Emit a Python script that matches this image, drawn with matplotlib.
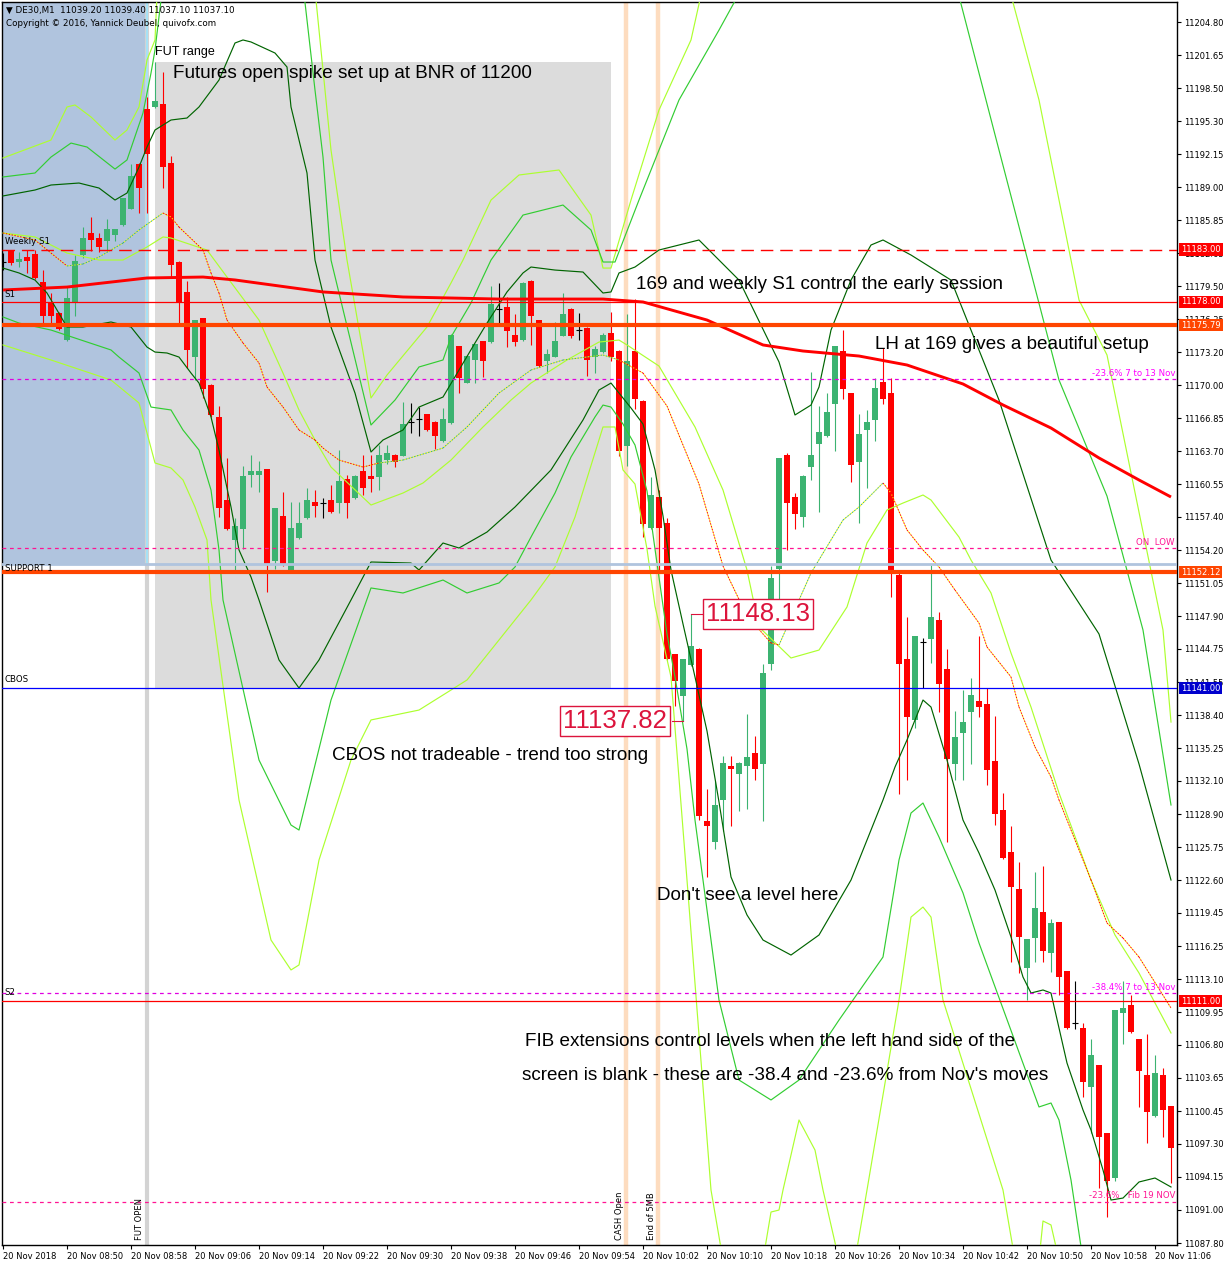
import matplotlib
matplotlib.use("Agg")
import matplotlib.pyplot as plt
import matplotlib.transforms as mtransforms
from matplotlib.patches import Rectangle

# ---- M1 candles, 20 Nov 08:42 .. 11:08 (index = minutes after 08:42) ----
opens = [11181.8, 11182.9, 11181.8, 11182.3, 11182.6, 11179.9, 11178.0, 11176.9, 11174.4, 11177.9,
         11182.5, 11184.6, 11184.1, 11183.8, 11184.4, 11185.4, 11186.9, 11191.2, 11196.5, 11196.7,
         11197.0, 11191.3, 11181.8, 11179.0, 11172.7, 11176.5, 11170.0, 11167.0, 11159.0, 11155.2,
         11156.2, 11161.4, 11161.4, 11162.0, 11153.2, 11157.5, 11152.1, 11155.4, 11157.3, 11158.8,
         11158.7, 11159.0, 11158.7, 11161.0, 11159.2, 11161.8, 11161.3, 11161.2, 11162.9, 11163.3,
         11163.2, 11166.5, 11166.8, 11167.3, 11166.5, 11164.7, 11166.4, 11173.8, 11170.2, 11172.4,
         11174.3, 11174.2, 11177.3, 11177.5, 11174.8, 11174.4, 11180.0, 11176.3, 11172.3, 11172.7,
         11174.7, 11177.3, 11175.3, 11175.5, 11172.7, 11173.2, 11175.0, 11173.3, 11164.2, 11173.3,
         11168.5, 11156.3, 11159.3, 11156.8, 11144.3, 11140.2, 11143.2, 11144.7, 11128.3, 11126.2,
         11130.3, 11133.5, 11132.8, 11133.5, 11134.8, 11133.7, 11143.3, 11152.4, 11163.3, 11159.3,
         11157.4, 11162.2, 11164.4, 11165.2, 11168.2, 11173.3, 11169.3, 11162.7, 11165.7, 11166.7,
         11170.3, 11169.3, 11151.8, 11143.8, 11137.9, 11145.4, 11145.7, 11147.5, 11142.8, 11133.7,
         11136.7, 11138.7, 11139.8, 11139.5, 11134.0, 11129.3, 11125.3, 11121.7, 11114.2, 11117.0,
         11119.5, 11115.6, 11118.6, 11113.9, 11108.9, 11108.4, 11102.8, 11104.9, 11098.4, 11094.0,
         11109.9, 11110.6, 11107.4, 11103.9, 11100.0, 11103.9, 11100.9]
highs = [11182.7, 11183.0, 11182.8, 11183.0, 11183.0, 11181.1, 11178.9, 11177.0, 11179.4, 11182.5,
         11185.2, 11186.1, 11184.6, 11186.0, 11185.0, 11188.0, 11191.2, 11191.3, 11197.6, 11201.0,
         11200.0, 11192.0, 11181.9, 11180.0, 11176.3, 11176.5, 11170.1, 11168.0, 11163.0, 11157.3,
         11162.3, 11163.3, 11162.8, 11162.0, 11158.3, 11159.8, 11158.8, 11158.8, 11160.2, 11160.0,
         11159.2, 11160.5, 11163.8, 11161.4, 11161.4, 11163.3, 11163.3, 11164.3, 11164.3, 11163.4,
         11168.4, 11168.3, 11167.9, 11167.3, 11166.6, 11167.8, 11174.9, 11173.8, 11172.9, 11174.0,
         11174.3, 11179.5, 11179.8, 11178.5, 11176.8, 11179.9, 11180.1, 11176.3, 11173.5, 11176.1,
         11178.9, 11177.4, 11176.9, 11175.6, 11173.8, 11175.0, 11177.0, 11173.4, 11176.8, 11178.3,
         11168.6, 11161.2, 11160.0, 11157.3, 11144.3, 11143.8, 11148.13, 11144.8, 11131.3, 11132.1,
         11134.5, 11134.5, 11133.9, 11138.5, 11136.4, 11143.3, 11152.7, 11163.0, 11163.5, 11159.7,
         11161.4, 11171.3, 11168.0, 11169.3, 11173.8, 11175.3, 11169.3, 11167.3, 11167.6, 11170.7,
         11173.6, 11170.7, 11152.3, 11147.8, 11146.0, 11145.8, 11152.8, 11148.3, 11144.7, 11138.8,
         11140.8, 11142.0, 11146.0, 11141.0, 11138.3, 11130.9, 11127.8, 11124.3, 11116.9, 11123.4,
         11123.9, 11118.9, 11118.6, 11113.9, 11112.9, 11108.9, 11107.4, 11104.9, 11098.4, 11110.1,
         11112.9, 11111.6, 11107.4, 11107.8, 11105.8, 11104.6, 11100.9]
lows = [11181.1, 11181.5, 11181.4, 11180.8, 11180.2, 11176.0, 11176.0, 11175.3, 11174.3, 11176.7,
        11182.2, 11182.9, 11182.8, 11182.9, 11183.8, 11185.3, 11186.9, 11186.5, 11186.5, 11196.6,
        11188.9, 11180.4, 11176.0, 11171.7, 11170.5, 11168.8, 11167.0, 11157.4, 11156.1, 11152.3,
        11154.3, 11160.3, 11159.8, 11150.2, 11152.4, 11152.7, 11152.0, 11155.3, 11157.2, 11157.4,
        11157.3, 11157.8, 11157.8, 11157.3, 11159.1, 11159.5, 11159.8, 11160.0, 11162.5, 11162.2,
        11163.2, 11165.4, 11165.2, 11165.6, 11163.9, 11164.6, 11166.3, 11169.3, 11170.2, 11170.2,
        11170.8, 11174.1, 11176.0, 11173.7, 11173.8, 11174.3, 11173.9, 11171.8, 11171.2, 11172.7,
        11174.7, 11174.5, 11174.4, 11170.9, 11171.2, 11173.1, 11172.3, 11163.2, 11162.3, 11167.7,
        11155.5, 11156.2, 11152.3, 11143.7, 11139.3, 11137.82, 11143.1, 11128.4, 11122.9, 11125.6,
        11127.3, 11127.8, 11129.2, 11129.4, 11132.2, 11128.3, 11142.7, 11146.9, 11154.2, 11156.2,
        11156.4, 11160.9, 11157.9, 11165.1, 11163.7, 11168.7, 11160.7, 11156.8, 11160.2, 11164.7,
        11168.2, 11149.7, 11130.8, 11132.2, 11137.2, 11141.0, 11143.4, 11138.7, 11126.2, 11132.2,
        11132.2, 11133.7, 11138.2, 11131.7, 11127.9, 11124.6, 11114.7, 11113.7, 11111.1, 11114.7,
        11114.7, 11113.8, 11111.6, 11108.3, 11108.3, 11101.8, 11098.4, 11093.1, 11090.3, 11093.8,
        11106.9, 11107.9, 11100.8, 11097.4, 11099.9, 11098.0, 11093.6]
closes = [11181.8, 11181.7, 11182.1, 11181.9, 11180.3, 11176.7, 11176.7, 11175.4, 11178.4, 11181.9,
          11184.1, 11183.9, 11183.3, 11185.0, 11185.0, 11188.0, 11190.1, 11188.9, 11192.2, 11197.3,
          11190.9, 11181.5, 11178.0, 11173.4, 11176.3, 11169.7, 11167.2, 11158.3, 11156.2, 11156.5,
          11161.3, 11161.8, 11161.8, 11152.8, 11158.3, 11152.8, 11156.3, 11156.8, 11159.0, 11158.4,
          11158.7, 11157.9, 11160.8, 11158.7, 11161.3, 11160.2, 11161.0, 11163.3, 11163.5, 11162.7,
          11166.3, 11166.5, 11166.8, 11165.7, 11165.2, 11166.8, 11174.8, 11170.7, 11172.8, 11174.0,
          11172.3, 11177.8, 11177.3, 11175.2, 11174.2, 11179.8, 11176.7, 11171.9, 11173.0, 11174.3,
          11176.8, 11174.7, 11175.3, 11172.4, 11173.5, 11174.8, 11172.7, 11163.7, 11172.3, 11168.7,
          11156.7, 11159.5, 11156.3, 11143.8, 11141.7, 11143.8, 11145.0, 11128.7, 11127.8, 11129.8,
          11133.8, 11133.2, 11133.8, 11134.4, 11133.2, 11142.4, 11151.5, 11163.0, 11158.7, 11157.7,
          11161.3, 11163.3, 11165.5, 11167.5, 11173.8, 11169.7, 11162.4, 11165.3, 11166.5, 11169.8,
          11168.7, 11152.2, 11143.3, 11138.2, 11146.0, 11145.4, 11147.8, 11141.4, 11134.2, 11136.3,
          11137.7, 11140.3, 11139.2, 11133.1, 11128.9, 11124.7, 11121.9, 11117.1, 11116.9, 11119.9,
          11115.8, 11118.5, 11113.3, 11108.4, 11108.9, 11103.2, 11105.8, 11098.0, 11093.8, 11110.1,
          11110.3, 11108.0, 11104.3, 11100.4, 11104.1, 11100.6, 11096.9]

# ---- indicator lines (candle index, price) ----
ma169_i = [0, 8, 18, 25, 29, 40, 50, 62, 75, 80, 88, 95, 100, 107, 113, 120, 125, 131, 137, 142, 146]
ma169_p = [11179.15, 11179.43, 11180.30, 11180.39, 11180.11, 11178.96, 11178.48, 11178.28, 11178.28,
           11178.00, 11176.27, 11173.88, 11173.30, 11172.82, 11171.96, 11170.14, 11168.13, 11165.92,
           11163.05, 11160.94, 11159.31]

mid_i = [0, 4, 6, 8, 10, 12, 15, 17, 20, 21, 22, 25, 26, 27, 28, 30, 32, 33, 35, 37, 39, 40, 42, 45,
         47, 50, 55, 58, 62, 66, 70, 75, 77, 80, 83, 87, 90, 93, 96, 97, 101, 105, 107, 110, 111, 113,
         115, 117, 119, 122, 123, 126, 127, 129, 131, 132, 136, 138, 140, 142, 146]
mid_p = [11184.61, 11183.94, 11182.69, 11181.45, 11181.64, 11182.31, 11183.65, 11184.90, 11186.53,
         11186.14, 11185.18, 11182.98, 11180.78, 11178.86, 11176.27, 11174.07, 11172.15, 11169.85,
         11167.93, 11165.73, 11164.77, 11164.00, 11162.85, 11162.18, 11162.57, 11162.85, 11164.00,
         11166.02, 11169.27, 11171.48, 11172.44, 11172.92, 11172.44, 11171.19, 11168.03, 11160.55,
         11152.69, 11147.90, 11145.32, 11145.12, 11152.02, 11157.10, 11158.35, 11160.65, 11159.69,
         11156.15, 11154.23, 11152.60, 11150.39, 11147.23, 11144.93, 11142.06, 11139.18, 11135.35,
         11132.47, 11130.27, 11122.61, 11118.48, 11117.04, 11115.22, 11110.33]
mid_up_spans = [(8, 20), (47, 77), (97, 110)]

ma2_i = [0, 4, 8, 12, 15, 18, 20, 21, 25.5, 28, 32, 35, 37, 39, 41, 46, 50, 52.5, 56, 60, 63.5, 66,
         70.5, 74.5, 77, 78, 82, 86.5, 90, 93, 94.5, 98.5, 102, 105.5, 108, 110.5, 112.5, 115, 116,
         119.5, 121, 123.5, 126, 128.5, 132, 136, 139, 142, 146]
ma2_p = [11184.61, 11184.23, 11182.69, 11182.02, 11182.02, 11183.27, 11184.23, 11184.13, 11182.98,
         11180.39, 11176.27, 11171.19, 11167.65, 11164.77, 11162.18, 11158.54, 11159.69, 11160.65,
         11162.85, 11166.02, 11168.60, 11170.23, 11172.44, 11174.16, 11174.35, 11173.88, 11171.86,
         11166.02, 11159.98, 11152.31, 11146.85, 11143.88, 11144.64, 11148.77, 11154.90, 11158.06,
         11158.73, 11159.50, 11159.02, 11155.47, 11153.27, 11150.11, 11144.36, 11139.18, 11130.94,
         11122.60, 11117.33, 11113.69, 11107.94]

up_dark_i = [0, 4, 6, 9.5, 12, 14, 15.5, 17, 18, 19, 21, 23, 24.5, 27, 29, 30, 31, 34, 35.5, 36, 38,
             39, 41, 44, 46, 47.5, 50, 52, 55, 57, 59, 60.5, 63, 65, 66, 69, 72.5, 75, 76, 77, 79, 82,
             87, 92, 97, 99, 101, 102, 103.5, 106, 108.5, 110, 113.5, 118.5, 124.5, 131, 137, 142, 146]
up_dark_p = [11188.16, 11188.73, 11189.21, 11189.40, 11188.92, 11187.77, 11188.44, 11190.93, 11192.85,
             11194.48, 11195.44, 11195.63, 11196.69, 11199.27, 11202.82, 11203.11, 11202.92, 11201.86,
             11200.52, 11196.69, 11190.36, 11182.02, 11175.60, 11169.27, 11163.62, 11164.77, 11165.73,
             11167.93, 11168.89, 11171.48, 11174.07, 11175.98, 11178.96, 11180.78, 11181.35, 11181.06,
             11180.87, 11178.86, 11178.96, 11180.78, 11181.35, 11182.98, 11183.94, 11180.10, 11172.25,
             11167.17, 11168.12, 11169.85, 11175.31, 11180.10, 11183.46, 11183.94, 11182.50, 11180.10,
             11168.60, 11153.27, 11146.18, 11133.72, 11122.60]

up_mid_i = [0, 4, 6, 8.5, 10.5, 14, 15.5, 17.5, 18.5, 19, 20.5, 37, 39, 40, 41, 46, 49, 52, 55, 56,
            58.5, 60, 61, 65, 70, 73.5, 75, 76.5, 79.5, 84.5, 89.5, 95, 118, 124.5, 132, 138, 142.5, 146]
up_mid_p = [11189.98, 11190.36, 11191.89, 11193.23, 11192.85, 11190.74, 11191.61, 11196.11, 11199.94,
            11202.15, 11211.73, 11211.73, 11198.31, 11191.89, 11182.02, 11166.21, 11168.60, 11171.77,
            11172.44, 11174.64, 11177.90, 11180.39, 11182.02, 11186.33, 11187.29, 11184.90, 11181.83,
            11181.83, 11187.77, 11197.36, 11204.06, 11211.73, 11211.73, 11192.56, 11170.52, 11159.40,
            11146.56, 11129.79]

up_light_i = [0, 6, 8, 9, 11, 14, 15.5, 17, 18, 19, 19.5, 38.5, 41, 43, 46, 48, 53, 56, 57.5, 61,
              64.5, 69.5, 73.5, 75, 76, 78.5, 82, 86, 88.5, 124.5, 129.5, 134.5, 138, 145, 146]
up_light_p = [11191.80, 11193.52, 11196.69, 11196.88, 11195.73, 11193.52, 11194.48, 11196.69, 11201.19,
              11203.11, 11211.73, 11211.73, 11192.56, 11182.02, 11168.80, 11171.00, 11175.60, 11179.82,
              11182.02, 11187.77, 11190.17, 11190.65, 11186.33, 11181.25, 11181.25, 11187.77, 11196.40,
              11203.11, 11211.73, 11211.73, 11197.36, 11178.19, 11172.92, 11146.56, 11137.74]

lo_dark_i = [0, 2, 4, 5.5, 8, 10, 13.5, 16, 18, 19, 20.5, 22, 23.5, 24.5, 26, 27, 28.5, 29.5, 31, 32,
             34.5, 37, 39.5, 43.5, 46, 51, 52, 55, 57, 60.5, 64, 68.5, 72.5, 74.5, 76, 78.5, 80, 81.5,
             82.5, 83.5, 85, 86.5, 88, 89.5, 91, 93, 95, 98.5, 102, 106, 108.5, 110, 111.5, 113, 115,
             116, 118, 120, 122, 124, 126, 127.5, 128.5, 130, 131, 133, 135, 136, 137.5, 138.5, 140,
             142, 144, 146]
lo_dark_p = [11181.25, 11180.78, 11180.10, 11178.86, 11175.60, 11175.60, 11176.08, 11175.60, 11173.68,
             11173.20, 11173.11, 11172.72, 11171.19, 11170.23, 11166.98, 11163.81, 11158.35, 11154.23,
             11151.64, 11149.44, 11143.69, 11141.00, 11143.69, 11149.44, 11153.08, 11152.98, 11152.31,
             11154.90, 11154.42, 11155.95, 11158.35, 11161.90, 11166.69, 11169.56, 11170.23, 11167.84,
             11166.30, 11161.90, 11157.49, 11152.31, 11147.14, 11142.06, 11136.88, 11130.08, 11122.89,
             11119.25, 11116.85, 11115.41, 11117.33, 11122.60, 11127.39, 11130.27, 11133.43, 11136.02,
             11139.85, 11139.18, 11134.10, 11128.35, 11125.19, 11121.64, 11117.14, 11113.30, 11111.77,
             11112.06, 11111.77, 11105.06, 11100.56, 11098.64, 11094.81, 11091.93, 11092.12, 11093.66,
             11094.04, 11093.18]

lo_mid_i = [0, 2, 6, 13.5, 14.5, 17, 18.5, 21, 22.5, 24.5, 26, 27, 27.5, 32, 36, 37, 41, 46, 50, 55,
            58, 62, 64, 66, 69, 71, 74, 75, 76, 77.5, 79, 80.5, 81.5, 83, 84, 85.5, 86.5, 87.5, 89.5,
            92, 96, 99.5, 104.5, 110, 112, 113.5, 115, 117, 120, 122, 129.5, 131, 132, 133.5, 135, 146]
lo_mid_p = [11176.56, 11175.98, 11175.31, 11173.40, 11172.72, 11171.19, 11167.93, 11167.65, 11165.73,
            11163.81, 11159.98, 11154.23, 11149.44, 11134.10, 11127.87, 11127.39, 11139.85, 11150.59,
            11150.11, 11151.35, 11150.11, 11151.07, 11152.60, 11155.47, 11159.69, 11163.14, 11166.98,
            11168.12, 11167.93, 11166.30, 11164.29, 11159.88, 11154.32, 11146.18, 11142.06, 11135.16,
            11128.35, 11122.60, 11111.10, 11103.43, 11101.52, 11103.43, 11109.18, 11115.22, 11124.52,
            11129.02, 11129.98, 11126.72, 11121.36, 11116.56, 11100.85, 11101.23, 11099.60, 11093.85,
            11086.18, 11082.00]

lo_light_i = [0, 6, 13.5, 17, 19, 21, 22.5, 24, 25.5, 26, 29.5, 33.5, 36, 37, 39.5, 43.5, 46, 52, 58,
              66, 69, 71.5, 75, 76.5, 77.5, 79, 80.5, 81.5, 83.5, 85.5, 88.5, 90, 95, 96, 97, 97.5,
              99.5, 101.5, 102.5, 104.5, 106.5, 108, 112, 113.5, 115, 116, 117.5, 125, 126.5, 129.5,
              130, 131, 132, 146]
lo_light_p = [11173.88, 11172.44, 11170.52, 11168.32, 11162.57, 11162.09, 11160.94, 11158.35, 11155.19,
              11149.44, 11130.27, 11116.85, 11113.98, 11114.46, 11124.52, 11134.10, 11137.94, 11138.89,
              11141.77, 11149.44, 11152.60, 11157.39, 11166.02, 11166.02, 11161.90, 11160.55, 11154.32,
              11148.86, 11142.06, 11122.60, 11092.89, 11086.18, 11086.18, 11090.78, 11090.97, 11092.89,
              11099.60, 11096.72, 11092.89, 11086.18, 11086.18, 11092.89, 11111.10, 11119.05, 11120.01,
              11119.05, 11111.10, 11092.89, 11086.18, 11086.18, 11089.92, 11089.54, 11086.18, 11082.00]

# ---- horizontal levels ----
level_prices = [11183.00, 11178.00, 11175.79, 11170.62, 11154.42, 11152.90, 11152.12, 11141.00,
                11111.77, 11111.00, 11091.74]
level_colors = ['#FF0000', '#FF0000', '#FF4500', '#E000E0', '#FF1493', '#B0C4DE', '#FF4500', '#0000FF',
                '#E000E0', '#FF0000', '#FF1493']
level_widths = [1.0, 0.9, 3.0, 0.9, 0.9, 2.0, 3.0, 0.9, 0.9, 0.9, 0.9]
level_styles = [(0, (9, 5)), '-', '-', (0, (3, 3)), (0, (3, 3)), '-', '-', '-', (0, (3, 3)), '-', (0, (3, 3))]

box_prices = [11183.00, 11178.00, 11175.79, 11152.12, 11141.00, 11111.00]
box_colors = ['#FF0000', '#FF0000', '#FF4500', '#FF4500', '#0000CD', '#FF0000']

ytick_labels = ['11087.80', '11091.00', '11094.15', '11097.30', '11100.45', '11103.65', '11106.80',
                '11109.95', '11113.10', '11116.25', '11119.45', '11122.60', '11125.75', '11128.90',
                '11132.10', '11135.25', '11138.40', '11141.55', '11144.75', '11147.90', '11151.05',
                '11154.20', '11157.40', '11160.55', '11163.70', '11166.85', '11170.00', '11173.20',
                '11176.35', '11179.50', '11182.65', '11185.85', '11189.00', '11192.15', '11195.30',
                '11198.50', '11201.65', '11204.80']
xtick_pos = list(range(0, 145, 8))
xtick_labels = ['20 Nov 2018', '20 Nov 08:50', '20 Nov 08:58', '20 Nov 09:06', '20 Nov 09:14',
                '20 Nov 09:22', '20 Nov 09:30', '20 Nov 09:38', '20 Nov 09:46', '20 Nov 09:54',
                '20 Nov 10:02', '20 Nov 10:10', '20 Nov 10:18', '20 Nov 10:26', '20 Nov 10:34',
                '20 Nov 10:42', '20 Nov 10:50', '20 Nov 10:58', '20 Nov 11:06']

BULL = '#3CB371'
BEAR = '#FF0000'
DARK = '#006400'
MIDG = '#32CD32'
LIGHT = '#ADFF2F'

fig = plt.figure(figsize=(12.26, 12.67), dpi=100)
ax = fig.add_axes([2 / 1226, 22 / 1267, 1175 / 1226, 1243 / 1267])
ax.set_xlim(-0.125, 146.75)
ax.set_ylim(11087.62, 11206.75)
for s in ax.spines.values():
    s.set_linewidth(1.0)
    s.set_color('black')

# background objects
ax.add_patch(Rectangle((-0.125, 11152.9), 17.95, 60, facecolor='#B0C4DE', edgecolor='none', zorder=0))
ax.add_patch(Rectangle((19, 11141.0), 57, 60.0, facecolor='#DCDCDC', edgecolor='none', zorder=0.5))
ax.axvline(17.95, color='#D3D3D3', lw=3, zorder=0.6)
ax.plot([17.95, 17.95], [11152.9, 11210], color='#A6E1F5', lw=1.5, zorder=0.7)
ax.axvline(77.9, color='#FDDCBF', lw=3.2, zorder=0.6)
ax.axvline(81.9, color='#FDDCBF', lw=3.2, zorder=0.6)

# candles
for i, (o, h, l, c) in enumerate(zip(opens, highs, lows, closes)):
    if o == c:
        ax.vlines(i, l, h, color='black', lw=0.8, zorder=2)
        ax.hlines(o, i - 0.32, i + 0.32, color='black', lw=0.8, zorder=2)
        continue
    col = BULL if c > o else BEAR
    ax.vlines(i, l, h, color=col, lw=0.8, zorder=2)
    ax.bar(i, abs(c - o), bottom=min(o, c), width=0.66, color=col, zorder=2.1, linewidth=0)

# bands and averages
for xs, ys, col in [(up_light_i, up_light_p, LIGHT), (up_mid_i, up_mid_p, MIDG), (up_dark_i, up_dark_p, DARK),
                    (lo_dark_i, lo_dark_p, DARK), (lo_mid_i, lo_mid_p, MIDG), (lo_light_i, lo_light_p, LIGHT),
                    (ma2_i, ma2_p, LIGHT)]:
    ax.plot(xs, ys, color=col, lw=0.85, zorder=3)

ax.plot(ma169_i, ma169_p, color='#FF0000', lw=2.1, zorder=3.2, solid_capstyle='butt')

for k in range(len(mid_i) - 1):
    xm = 0.5 * (mid_i[k] + mid_i[k + 1])
    up = any(a <= xm <= b for a, b in mid_up_spans)
    seg_x = mid_i[k:k + 2]
    seg_y = mid_p[k:k + 2]
    ax.plot(seg_x, seg_y, color='#FFFF00', lw=0.7, ls=(1.5, (1.5, 1.5)), zorder=3.1)
    ax.plot(seg_x, seg_y, color=(BULL if up else '#FF0000'), lw=0.7, ls=(0, (1.5, 1.5)), zorder=3.1)

# horizontal levels
for p, col, lw, ls in zip(level_prices, level_colors, level_widths, level_styles):
    ax.axhline(p, color=col, lw=lw, ls=ls, zorder=4)

# right axis
ax.yaxis.tick_right()
ax.set_yticks([float(s) for s in ytick_labels])
ax.set_yticklabels(ytick_labels)
ax.tick_params(axis='y', direction='out', length=3, width=0.8, pad=2, labelsize=6)
ax.set_xticks(xtick_pos)
ax.set_xticklabels(xtick_labels, ha='left')
ax.tick_params(axis='x', direction='out', length=3, width=0.8, pad=2, labelsize=6)

trans = mtransforms.blended_transform_factory(ax.transAxes, ax.transData)
for p, col in zip(box_prices, box_colors):
    ax.text(1.0035, p, '%.2f' % p, transform=trans, ha='left', va='center', fontsize=6, color='white',
            bbox=dict(boxstyle='square,pad=0.22', fc=col, ec='none'), clip_on=False, zorder=10)

# header
ax.text(0.003, 0.9935, '\u25bc DE30,M1  11039.20 11039.40 11037.10 11037.10', transform=ax.transAxes,
        fontsize=6.3, va='center', ha='left', zorder=10)
ax.text(0.003, 0.983, 'Copyright \u00a9 2016, Yannick Deubel, quivofx.com', transform=ax.transAxes,
        fontsize=6.3, va='center', ha='left', zorder=10)

# left level labels
small = dict(fontsize=6.2, ha='left', zorder=10)
ax.text(0.2, 11183.4, 'Weekly S1', va='bottom', **small)
ax.text(0.2, 11178.3, 'S1', va='bottom', **small)
ax.text(0.2, 11152.5, 'SUPPORT 1', va='center', **small)
ax.text(0.2, 11141.4, 'CBOS', va='bottom', **small)
ax.text(0.2, 11111.4, 'S2', va='bottom', **small)

# right fib labels
ax.text(146.5, 11170.75, '-23.6% 7 to 13 Nov', color='#FF00FF', fontsize=6.2, ha='right', va='bottom', zorder=10)
ax.text(146.5, 11154.55, 'ON  LOW', color='#FF1493', fontsize=6.2, ha='right', va='bottom', zorder=10)
ax.text(146.5, 11111.9, '-38.4% 7 to 13 Nov', color='#FF00FF', fontsize=6.2, ha='right', va='bottom', zorder=10)
ax.text(146.5, 11091.9, '-23.6%   Fib 19 NOV', color='#FF1493', fontsize=6.2, ha='right', va='bottom', zorder=10)

# vertical labels
ax.text(17.1, 11088.1, 'FUT OPEN', rotation=90, fontsize=6, ha='center', va='bottom', zorder=10)
ax.text(77.1, 11088.1, 'CASH Open', rotation=90, fontsize=6, ha='center', va='bottom', zorder=10)
ax.text(81.1, 11088.1, 'End of 5MB', rotation=90, fontsize=6, ha='center', va='bottom', zorder=10)
ax.text(19, 11201.96, 'FUT range', fontsize=9, family='Liberation Sans', ha='left', va='center', zorder=10)

# annotations
big = dict(fontsize=13.6, family='Liberation Sans', ha='left', va='center', zorder=10)
ax.text(21.25, 11199.94, 'Futures open spike set up at BNR of 11200', **big)
ax.text(79.1, 11179.63, '169 and weekly S1 control the early session', **big)
ax.text(109, 11173.97, 'LH at 169 gives a beautiful setup', **big)
ax.text(41.1, 11134.49, 'CBOS not tradeable - trend too strong', **big)
ax.text(81.75, 11121.16, "Don't see a level here", **big)
ax.text(65.25, 11107.17, 'FIB extensions control levels when the left hand side of the', **big)
ax.text(64.9, 11103.82, "screen is blank - these are -38.4 and -23.6% from Nov's moves", **big)

# price callouts
callout = dict(fontsize=18.5, family='Liberation Sans', color='#DC143C', ha='center', va='center', zorder=11,
               bbox=dict(boxstyle='square,pad=0.12', fc='white', ec='#DC143C', lw=1))
ax.text(94.4, 11148.13, '11148.13', **callout)
ax.text(76.5, 11137.82, '11137.82', **callout)
ax.plot([86, 87.4], [11148.13, 11148.13], color='#DC143C', lw=0.8, zorder=11)
ax.plot([83.6, 85], [11137.82, 11137.82], color='#DC143C', lw=0.8, zorder=11)

fig.savefig('out.png', dpi=100)
